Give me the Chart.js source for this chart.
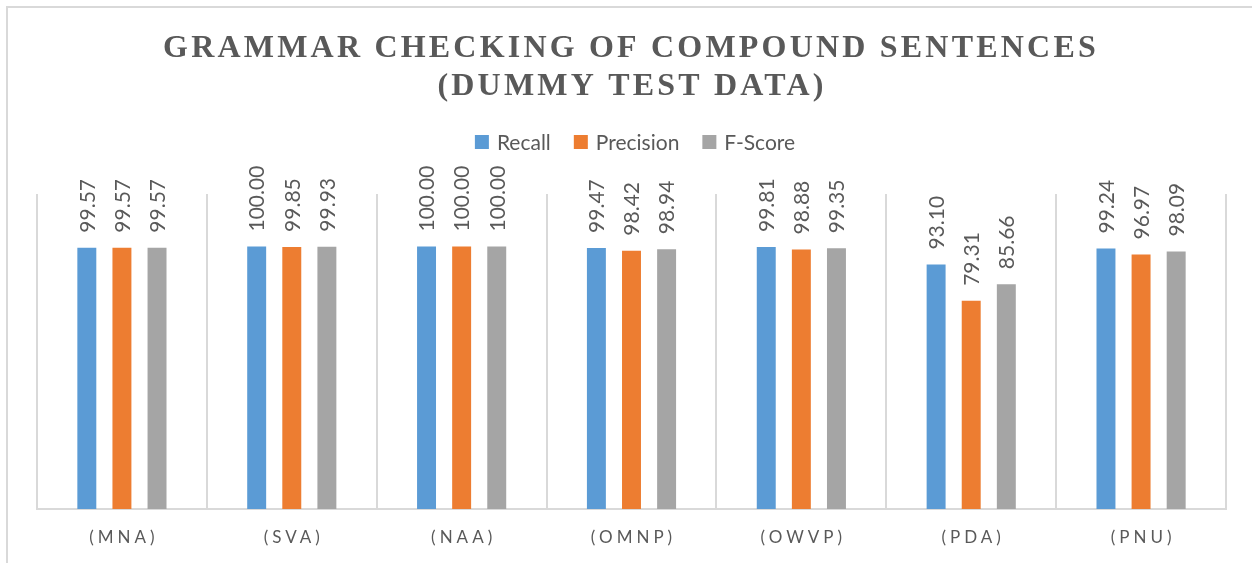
<!DOCTYPE html>
<html>
<head>
<meta charset="utf-8">
<script src="https://cdn.jsdelivr.net/npm/chart.js@4.4.1/dist/chart.umd.min.js"></script>
<style>
    html, body { margin: 0; padding: 0; background: #fff; overflow: hidden; }
    #wrap { position: relative; width: 1252px; height: 563px; }
    #frame { position: absolute; left: 6px; top: 6px; width: 1260px; height: 580px; border: 2px solid #d9d9d9; box-sizing: border-box; }
    #chart { position: absolute; left: 0; top: 0; }
</style>
</head>
<body>
<div id="wrap">
    <div id="frame"></div>
    <canvas id="chart" width="1252" height="563"></canvas>
</div>
<script>
// Chart data
const categories = ['(MNA)', '(SVA)', '(NAA)', '(OMNP)', '(OWVP)', '(PDA)', '(PNU)'];
const recall = [99.57, 100.00, 100.00, 99.47, 99.81, 93.10, 99.24];
const precision = [99.57, 99.85, 100.00, 98.42, 98.88, 79.31, 96.97];
const fScore = [99.57, 99.93, 100.00, 98.94, 99.35, 85.66, 98.09];
const titleLines = ['GRAMMAR CHECKING OF COMPOUND SENTENCES', '(DUMMY TEST DATA)'];

const textColor = '#595959';
const labelFont = 'Lato, "Open Sans", sans-serif';

// Title, legend, category labels and value labels drawn on top
const decorPlugin = {
    id: 'decor',
    afterDraw(chart) {
        const ctx = chart.ctx;
        ctx.save();

        // title
        ctx.fillStyle = textColor;
        ctx.font = 'bold 32px "Liberation Serif", "Times New Roman", serif';
        ctx.letterSpacing = '3.2px';
        ctx.textAlign = 'center';
        ctx.textBaseline = 'alphabetic';
        ctx.fillText(titleLines[0], 631, 57);
        ctx.fillText(titleLines[1], 632, 95);

        // legend
        ctx.letterSpacing = '0px';
        ctx.font = '21px ' + labelFont;
        ctx.textAlign = 'left';
        ctx.textBaseline = 'middle';
        const items = chart.data.datasets.map(ds => ({
            text: ds.label, color: ds.backgroundColor, w: 14 + 8 + ctx.measureText(ds.label).width
        }));
        const gap = 23;
        const total = items.reduce((s, it) => s + it.w, 0) + gap * (items.length - 1);
        let lx = 635 - total / 2;
        items.forEach(it => {
            ctx.fillStyle = it.color;
            ctx.fillRect(lx, 135, 14, 14);
            ctx.fillStyle = textColor;
            ctx.fillText(it.text, lx + 22, 143);
            lx += it.w + gap;
        });

        // category labels
        const xScale = chart.scales.x;
        ctx.font = '17px ' + labelFont;
        ctx.letterSpacing = '4px';
        ctx.textAlign = 'center';
        categories.forEach((c, i) => {
            ctx.fillText(c, xScale.getPixelForTick(i) + 2, 538);
        });

        // value labels, rotated
        ctx.letterSpacing = '0px';
        ctx.font = '21px ' + labelFont;
        ctx.textAlign = 'left';
        chart.data.datasets.forEach((ds, di) => {
            const meta = chart.getDatasetMeta(di);
            meta.data.forEach((bar, i) => {
                ctx.save();
                ctx.translate(bar.x, bar.y - 15);
                ctx.rotate(-Math.PI / 2);
                ctx.fillText(ds.data[i].toFixed(2), 0, 1);
                ctx.restore();
            });
        });

        ctx.restore();
    }
};

new Chart(document.getElementById('chart'), {
    type: 'bar',
    data: {
        labels: categories,
        datasets: [
            { label: 'Recall', data: recall, backgroundColor: '#5b9bd5' },
            { label: 'Precision', data: precision, backgroundColor: '#ed7d31' },
            { label: 'F-Score', data: fScore, backgroundColor: '#a5a5a5' }
        ]
    },
    options: {
        responsive: false,
        animation: false,
        categoryPercentage: 0.62,
        barPercentage: 0.54,
        layout: {
            padding: { top: 194, left: 37, right: 26, bottom: 0 }
        },
        plugins: {
            legend: { display: false },
            title: { display: false },
            tooltip: { enabled: false }
        },
        scales: {
            x: {
                grid: { color: '#d9d9d9', lineWidth: 2, drawTicks: false, offset: true },
                border: { color: '#d9d9d9', width: 2 },
                ticks: { display: false },
                afterFit(scale) { scale.height = 54; }
            },
            y: {
                display: false,
                min: 0,
                max: 120
            }
        }
    },
    plugins: [decorPlugin]
});
</script>
</body>
</html>
